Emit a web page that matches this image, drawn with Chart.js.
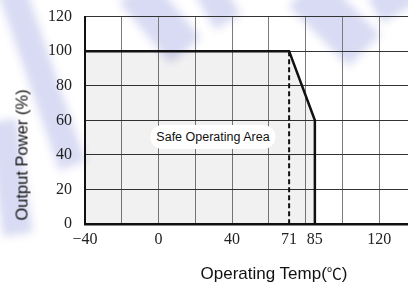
<!DOCTYPE html>
<html>
<head>
<meta charset="utf-8">
<script src="https://cdn.jsdelivr.net/npm/chart.js@4.4.1/dist/chart.umd.min.js"></script>
<style>
    html, body { margin: 0; padding: 0; width: 408px; height: 283px; overflow: hidden; background: #fff; }
    #wrap { position: relative; width: 408px; height: 283px; overflow: hidden; }
    /* canvas is a bit larger than the page so the plot runs off the right edge */
    #chart { position: absolute; left: 0; top: -6px; }
    .wm { position: absolute; background: rgba(190, 195, 235, 0.6); filter: blur(4px); }
    .axis-title { position: absolute; font-family: "Liberation Sans", Arial, sans-serif; color: #111; white-space: nowrap; }
    #x-title { left: 274px; top: 273px; font-size: 17px; transform: translate(-50%, -50%); }
    #y-title { left: 22px; top: 155px; font-size: 16.5px; transform: translate(-50%, -50%) rotate(-90deg); }
    .cjk { font-family: "Noto Sans CJK SC", sans-serif; font-size: 15px; }
    #area-label { position: absolute; left: 213px; top: 137px; transform: translate(-50%, -50%);
        font-family: "Liberation Sans", Arial, sans-serif; font-size: 12.5px; color: #111;
        background: #fff; border-radius: 12px; padding: 5px 6px; white-space: nowrap; }
</style>
</head>
<body>
<div id="wrap">
    <!-- faint watermark stripes behind the chart -->
    <div class="wm" style="left:28px; top:-15px; width:28px; height:186px; transform:rotate(-19deg);"></div>
    <div class="wm" style="left:-5px; top:120px; width:30px; height:115px; transform:rotate(-8deg);"></div>
    <div class="wm" style="left:140px; top:-20px; width:40px; height:80px; transform:rotate(-40deg);"></div>
    <div class="wm" style="left:203px; top:-15px; width:30px; height:40px; transform:rotate(-30deg);"></div>
    <div class="wm" style="left:312px; top:-22px; width:45px; height:85px; transform:rotate(-45deg);"></div>
    <div class="wm" style="left:372px; top:-15px; width:40px; height:30px; transform:rotate(-30deg);"></div>

    <canvas id="chart" width="422" height="289"></canvas>

    <div class="axis-title" id="y-title">Output Power (%)</div>
    <div class="axis-title" id="x-title">Operating Temp(<span class="cjk">℃</span>)</div>
    <div id="area-label">Safe Operating Area</div>
</div>

<script>
//derating curve: full power up to 71, falls to 60% at 85, then cut off
const deratingTemps = [-40, 71, 85, 85];
const deratingPower = [100, 100, 60, 0];

//dashed marker at 71
const markerTemps = [71, 71];
const markerPower = [100, 0];

//x axis: grid every 20, labels only on some of them
const xTickValues = [-40, -20, 0, 20, 40, 60, 71, 80, 85, 100, 120, 140];
const xLabelValues = [-40, 0, 40, 71, 85, 120];
const xHiddenGrid = [71, 85];

//y axis
const yMin = 0;
const yMax = 120;
const yStep = 20;

const toPoints = (xs, ys) => xs.map((x, i) => ({ x: x, y: ys[i] }));

//negative numbers use a real minus sign
const formatTemp = (v) => (v < 0 ? '\u2212' + Math.abs(v) : String(v));

const tickFont = { family: '"Liberation Serif", "Times New Roman", serif', size: 16 };

const chartCanvas = document.getElementById('chart');

new Chart(chartCanvas, {
    type: 'line',
    data: {
        datasets: [
            {
                label: 'Derating',
                data: toPoints(deratingTemps, deratingPower),
                borderColor: '#111',
                borderWidth: 2.5,
                backgroundColor: 'rgba(0, 0, 0, 0.055)',
                fill: 'origin',
                pointRadius: 0,
                tension: 0,
            },
            {
                label: 'Marker',
                data: toPoints(markerTemps, markerPower),
                borderColor: '#111',
                borderWidth: 2,
                borderDash: [5, 3],
                fill: false,
                pointRadius: 0,
            },
        ],
    },
    options: {
        responsive: false,
        animation: false,
        layout: { padding: { top: 8.5, left: 0, right: 0, bottom: 0 } },
        plugins: {
            legend: { display: false },
            tooltip: { enabled: false },
        },
        scales: {
            x: {
                type: 'linear',
                min: xTickValues[0],
                max: xTickValues[xTickValues.length - 1],
                afterBuildTicks: (scale) => {
                    scale.ticks = xTickValues.map((v) => ({ value: v }));
                },
                afterFit: (scale) => {
                    scale.height = 59;
                },
                ticks: {
                    autoSkip: false,
                    maxRotation: 0,
                    padding: 6,
                    color: '#222',
                    font: tickFont,
                    callback: (v) => (xLabelValues.includes(v) ? formatTemp(v) : ''),
                },
                grid: {
                    drawTicks: false,
                    lineWidth: 1,
                    color: (ctx) => (ctx.tick && xHiddenGrid.includes(ctx.tick.value) ? 'rgba(0,0,0,0)' : '#7a7a7a'),
                },
                border: { color: '#111', width: 2.5 },
            },
            y: {
                min: yMin,
                max: yMax,
                afterFit: (scale) => {
                    scale.width = 85;
                },
                ticks: {
                    stepSize: yStep,
                    padding: 13,
                    color: '#222',
                    font: tickFont,
                },
                grid: {
                    drawTicks: false,
                    lineWidth: 1,
                    color: '#333',
                },
                border: { color: '#111', width: 2 },
            },
        },
    },
});
</script>
</body>
</html>
